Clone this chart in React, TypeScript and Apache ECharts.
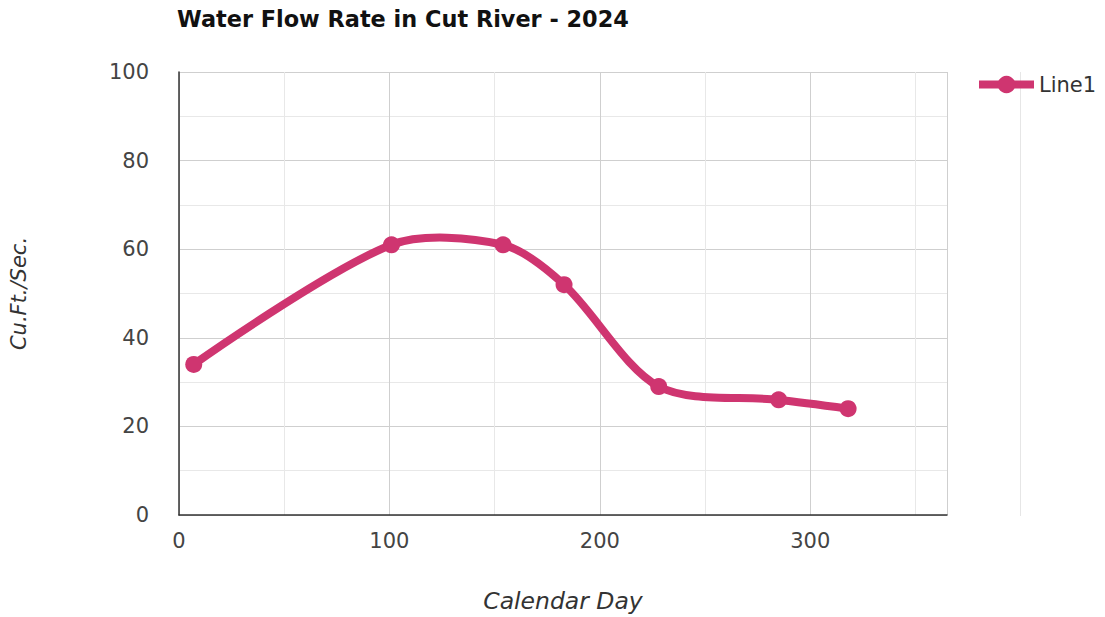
import React, { useEffect, useRef } from "react";
import * as echarts from "echarts";

const days = [7, 101, 154, 183, 228, 285, 318];
const flow = [34, 61, 61, 52, 29, 26, 24];
const seriesName = "Line1";
const titleText = "Water Flow Rate in Cut River - 2024";
const xName = "Calendar Day";
const yName = "Cu.Ft./Sec.";

const LINE_COLOR = "#cf3570";

export default function App() {
  const ref = useRef<HTMLDivElement>(null);
  useEffect(() => {
    if (!ref.current) return;
    const chart = echarts.init(ref.current, null, { renderer: "svg" });
    const font = "DejaVu Sans, Verdana, sans-serif";
    const points = days.map((d, i) => [d, flow[i]]);
    chart.setOption({
      animation: false,
      textStyle: { fontFamily: font },
      title: {
        text: titleText,
        left: 172,
        top: 3,
        textStyle: { fontSize: 22.4, fontWeight: "bold", color: "#111", fontFamily: font },
      },
      legend: {
        data: [seriesName],
        left: 970,
        top: 69,
        itemWidth: 55,
        itemHeight: 22,
        textStyle: { fontSize: 21, color: "#333", fontFamily: font },
        lineStyle: { width: 8, color: LINE_COLOR, opacity: 1 },
        itemStyle: { color: LINE_COLOR },
      },
      grid: { left: 178, right: 158, top: 72, bottom: 101, containLabel: false },
      xAxis: {
        type: "value",
        min: 0,
        max: 365,
        interval: 100,
        name: xName,
        nameLocation: "middle",
        nameGap: 74,
        nameTextStyle: { fontSize: 23.5, fontStyle: "italic", color: "#333", fontFamily: font },
        axisLine: { show: true, lineStyle: { color: "#333", width: 1.5 } },
        axisTick: { show: false },
        axisLabel: { fontSize: 21, color: "#444", margin: 15, showMaxLabel: false, fontFamily: font },
        splitLine: { show: true, lineStyle: { color: "#cfcfcf", width: 1 } },
        minorSplitLine: { show: true, lineStyle: { color: "#e8e8e8", width: 1 } },
        minorTick: { show: false, splitNumber: 2 },
      },
      yAxis: {
        type: "value",
        min: 0,
        max: 100,
        interval: 20,
        name: yName,
        nameLocation: "middle",
        nameGap: 150,
        nameRotate: 90,
        nameTextStyle: { fontSize: 21, fontStyle: "italic", color: "#333", fontFamily: font },
        axisLine: { show: true, lineStyle: { color: "#333", width: 1.5 } },
        axisTick: { show: false },
        axisLabel: { fontSize: 21, color: "#444", margin: 30, fontFamily: font },
        splitLine: { show: true, lineStyle: { color: "#cfcfcf", width: 1 } },
        minorSplitLine: { show: true, lineStyle: { color: "#e8e8e8", width: 1 } },
        minorTick: { show: false, splitNumber: 2 },
      },
      graphic: [
        {
          type: "line",
          shape: { x1: 1020.5, y1: 72, x2: 1020.5, y2: 516 },
          style: { stroke: "#e6e6e6", lineWidth: 1 },
          silent: true,
          z: -1,
        },
      ],
      series: [
        {
          name: "curve",
          type: "custom",
          data: points,
          encode: { x: 0, y: 1 },
          z: 2,
          silent: true,
          renderItem: (params: any, api: any) => {
            if (params.dataIndex !== 0) return null;
            const pts = points.map((p) => api.coord(p));
            return {
              type: "polyline",
              shape: { points: pts, smooth: 0.3 },
              style: {
                stroke: LINE_COLOR,
                lineWidth: 8,
                fill: "none",
                lineJoin: "round",
                lineCap: "round",
              },
            };
          },
        },
        {
          name: seriesName,
          type: "line",
          data: points,
          z: 3,
          symbol: "circle",
          symbolSize: 17,
          showSymbol: true,
          itemStyle: { color: LINE_COLOR },
          lineStyle: { color: LINE_COLOR, width: 0, opacity: 0 },
        },
      ],
    });
    return () => chart.dispose();
  }, []);
  return <div ref={ref} style={{ width: 1105, height: 617, position: "absolute", left: 0, top: 0 }} />;
}
